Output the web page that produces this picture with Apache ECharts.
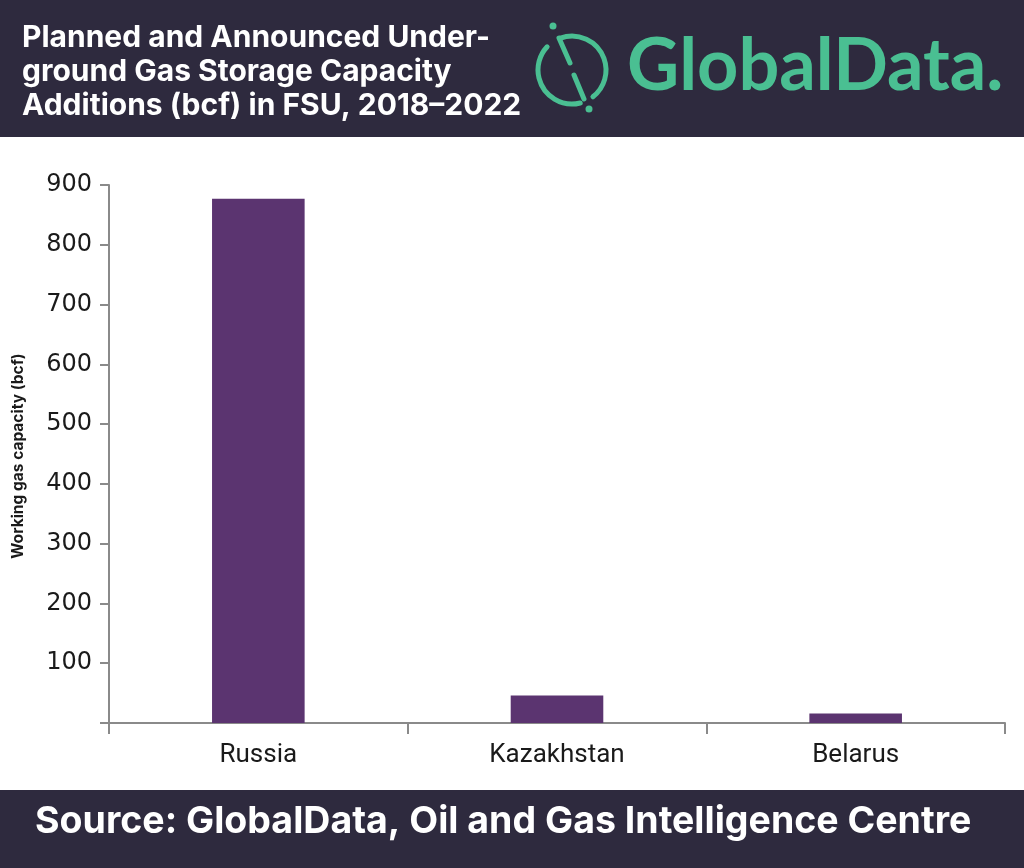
<!DOCTYPE html>
<html>
<head>
<meta charset="utf-8">
<style>
  html, body { margin: 0; padding: 0; background: #ffffff; }
  #chart { width: 1024px; height: 868px; }
</style>
<script src="https://cdn.jsdelivr.net/npm/echarts@6/dist/echarts.min.js"></script>
</head>
<body>
<div id="chart"></div>
<script>
// values
var countries = ['Russia', 'Kazakhstan', 'Belarus'];
var capacity = [877, 46, 16];
var titleLines = ['Planned and Announced Under-', 'ground Gas Storage Capacity', 'Additions (bcf) in FSU, 2018\u20132022'];
var sourceText = 'Source: GlobalData, Oil and Gas Intelligence Centre';
var yName = 'Working gas capacity (bcf)';

var dark = '#2e2a3e';
var green = '#4abf92';
var purple = '#5b3470';
var axisGrey = '#8a8a8a';

var myChart = echarts.init(document.getElementById('chart'));

function deg(a) { return a * Math.PI / 180; }

var option = {
	animation : false,
	backgroundColor : '#ffffff',
	grid : {
		left : 109,
		right : 19,
		top : 185,
		bottom : 145
	},
	xAxis : {
		type : 'category',
		data : countries,
		axisLine : { lineStyle : { color : axisGrey, width : 2 } },
		axisTick : { show : true, length : 11, lineStyle : { color : axisGrey, width : 2 } },
		axisLabel : { color : '#1a1a1a', fontFamily : 'Roboto', fontSize : 26, margin : 19 }
	},
	yAxis : {
		type : 'value',
		min : 0,
		max : 900,
		interval : 100,
		splitLine : { show : false },
		axisLine : { show : true, lineStyle : { color : axisGrey, width : 2 } },
		axisTick : { show : true, length : 9, lineStyle : { color : axisGrey, width : 2 } },
		axisLabel : {
			color : '#1a1a1a',
			fontFamily : 'DejaVu Sans',
			fontSize : 24,
			margin : 17,
			formatter : function(v) { return v === 0 ? '' : v; }
		}
	},
	series : [ {
		type : 'bar',
		data : capacity,
		barWidth : '31%',
		itemStyle : { color : purple }
	} ],
	graphic : [
		{ type : 'rect', left : 0, top : 0, shape : { width : 1024, height : 137 }, style : { fill : dark }, z : -1 },
		{ type : 'rect', left : 0, top : 790, shape : { width : 1024, height : 78 }, style : { fill : dark }, z : -1 },
		{
			type : 'text', left : 22, top : 21,
			style : {
				text : titleLines.join('\n'),
				fill : '#ffffff',
				font : 'bold 30px Inter',
				lineHeight : 34
			}
		},
		{
			type : 'text', left : 35, top : 803,
			style : { text : sourceText, fill : '#ffffff', font : 'bold 37.5px Inter' }
		},
		{
			type : 'text', x : 18, y : 456, rotation : Math.PI / 2,
			style : { text : yName, fill : '#1a1a1a', font : 'bold 15.5px Inter', align : 'center', verticalAlign : 'middle' }
		},
		// logo mark
		{ type : 'arc', shape : { cx : 572, cy : 70, r : 34, startAngle : deg(-110), endAngle : deg(52), clockwise : true },
		  style : { stroke : green, lineWidth : 5, fill : null, lineCap : 'round' } },
		{ type : 'arc', shape : { cx : 572, cy : 70, r : 34, startAngle : deg(76), endAngle : deg(223), clockwise : true },
		  style : { stroke : green, lineWidth : 5, fill : null, lineCap : 'round' } },
		{ type : 'line', shape : { x1 : 559, y1 : 38, x2 : 570, y2 : 63 }, style : { stroke : green, lineWidth : 5, lineCap : 'round' } },
		{ type : 'line', shape : { x1 : 574, y1 : 75, x2 : 584, y2 : 99 }, style : { stroke : green, lineWidth : 5, lineCap : 'round' } },
		{ type : 'circle', shape : { cx : 553, cy : 26, r : 3.5 }, style : { fill : green } },
		{ type : 'circle', shape : { cx : 589, cy : 109, r : 3.5 }, style : { fill : green } },
		{
			type : 'text', left : 627, top : 31,
			style : { text : 'GlobalData.', fill : green, font : 'bold 72px Lato' }
		}
	]
};

myChart.setOption(option);
</script>
</body>
</html>
